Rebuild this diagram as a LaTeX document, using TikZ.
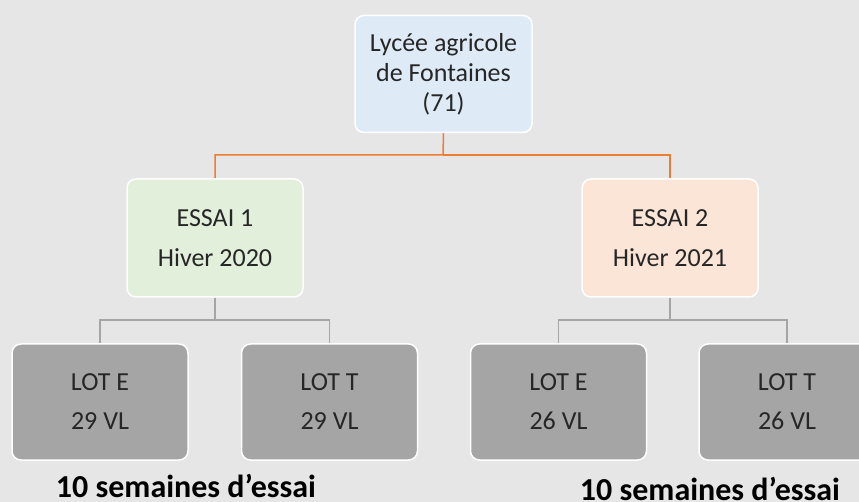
\documentclass[tikz,border=0pt]{standalone}
\usepackage{fontspec}
\setmainfont{Carlito}
\usetikzlibrary{positioning}
\definecolor{bgGray}{HTML}{E6E6E6}
\definecolor{topBlue}{HTML}{DEEBF7}
\definecolor{essaiGreen}{HTML}{E2EFDA}
\definecolor{essaiRose}{HTML}{FBE5D6}
\definecolor{lotGray}{HTML}{A5A5A5}
\definecolor{linkOrange}{HTML}{ED7D31}
\definecolor{linkGray}{HTML}{A5A5A5}
\definecolor{txtDark}{HTML}{262626}
\begin{document}
\begin{tikzpicture}[x=1pt,y=-1pt,
    box/.style={draw=white,line width=1.5pt,rounded corners=9pt,align=center,
      inner sep=0pt,text=txtDark,font=\fontsize{26}{30}\selectfont},
    topbox/.style={box,fill=topBlue,minimum width=177pt,minimum height=117pt},
    essaibox/.style={box,fill=#1,minimum width=176pt,minimum height=118pt,
      font=\fontsize{26}{40}\selectfont},
    lotbox/.style={box,fill=lotGray,minimum width=176pt,minimum height=116pt,
      font=\fontsize{26}{39}\selectfont},
    orangelink/.style={draw=linkOrange,line width=1.5pt},
    graylink/.style={draw=linkGray,line width=1.5pt},
    note/.style={font=\fontsize{32}{32}\selectfont\bfseries,text=black,inner sep=0pt,anchor=base}]
 \fill[bgGray] (0,0) rectangle (859,502);
 \useasboundingbox (0,0) rectangle (859,502);
 \clip (0,0) rectangle (859,502);
 % links
 \coordinate (j-top) at (443,155);
 \coordinate (j-1) at (215,320);
 \coordinate (j-2) at (670,320);
 \node[topbox] (top) at (443.5,74) {Lycée agricole\\de Fontaines\\(71)};
 \node[essaibox=essaiGreen] (essai1) at (215,238) {ESSAI 1\\Hiver 2020};
 \node[essaibox=essaiRose] (essai2) at (670,238) {ESSAI 2\\Hiver 2021};
 \foreach \N/\X/\L/\V in {lotE1/100/E/29,lotT1/329.5/T/29,lotE2/558.5/E/26,lotT2/787/T/26}
 {\node[lotbox] (\N) at (\X,402) {LOT \L\\\V\ VL};}
 \draw[orangelink] (top.south) -- (j-top) -| (essai1.north);
 \draw[orangelink] (j-top) -| (essai2.north);
 \draw[graylink] (essai1.south) -- (j-1) -| (lotE1.north);
 \draw[graylink] (j-1) -| (lotT1.north);
 \draw[graylink] (essai2.south) -- (j-2) -| (lotE2.north);
 \draw[graylink] (j-2) -| (lotT2.north);
 \node[note] (note1) at (186,497) {10 semaines d’essai};
 \node[note] (note2) at (710,500) {10 semaines d’essai};
\end{tikzpicture}
\end{document}
